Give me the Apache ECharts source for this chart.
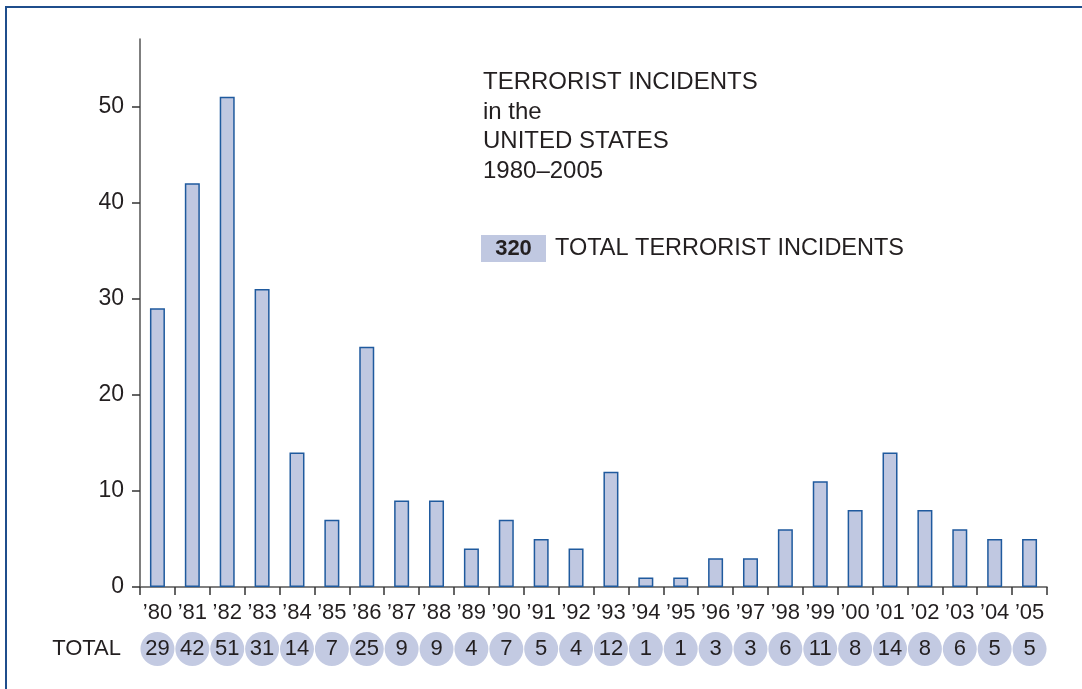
<!DOCTYPE html>
<html>
<head>
<meta charset="utf-8">
<script src="https://cdn.jsdelivr.net/npm/echarts@6/dist/echarts.min.js"></script>
<style>
  html, body { margin: 0; padding: 0; background: #fff; }
  #main { width: 1082px; height: 689px; }
</style>
</head>
<body>
<div id="main"></div>
<script>
// year labels along the bottom
const years = ['’80','’81','’82','’83','’84','’85','’86','’87','’88','’89','’90','’91','’92',
               '’93','’94','’95','’96','’97','’98','’99','’00','’01','’02','’03','’04','’05']
// incidents per year
const incidents = [29, 42, 51, 31, 14, 7, 25, 9, 9, 4, 7, 5, 4, 12, 1, 1, 3, 3, 6, 11, 8, 14, 8, 6, 5, 5]
const yTicks = [0, 10, 20, 30, 40, 50]
const grandTotal = 320

const fill = '#c0c8e1'
const edge = '#1f5a9e'
const ink = '#231f20'
const font = 'Liberation Sans, Arial, Helvetica, sans-serif'

let chart = echarts.init(document.getElementById('main'))
chart.setOption({
  animation: false,
  textStyle: { fontFamily: font, color: ink },
  grid: [
    { left: 140, right: 35, top: 39, bottom: 102 },
    { left: 140, right: 35, top: 632, height: 34 }
  ],
  xAxis: [{
    type: 'category',
    data: years,
    boundaryGap: true,
    axisLine: { lineStyle: { color: '#555', width: 1.5 } },
    axisTick: { show: true, length: 8, lineStyle: { color: '#333', width: 1.5 } },
    axisLabel: { fontSize: 22, color: ink, margin: 15, interval: 0 }
  }, {
    type: 'category',
    gridIndex: 1,
    data: years,
    show: false
  }],
  yAxis: [{
    type: 'value',
    min: 0,
    max: 57,
    interval: 10,
    splitLine: { show: false },
    axisLine: { show: true, lineStyle: { color: '#555', width: 1.5 } },
    axisTick: { show: true, length: 8, customValues: yTicks, lineStyle: { color: '#333', width: 1.5 } },
    axisLabel: { fontSize: 23, color: ink, margin: 16, customValues: yTicks }
  }, {
    type: 'category',
    gridIndex: 1,
    data: ['TOTAL'],
    axisLine: { show: false },
    axisTick: { show: false },
    axisLabel: { fontSize: 22, color: ink, margin: 19 }
  }],
  series: [{
    type: 'bar',
    data: incidents,
    barWidth: 15,
    itemStyle: { color: fill, borderColor: edge, borderWidth: 1.5 }
  }, {
    type: 'scatter',
    xAxisIndex: 1,
    yAxisIndex: 1,
    data: incidents.map((v, i) => [years[i], 'TOTAL', v]),
    symbolSize: 34,
    itemStyle: { color: '#c3cae2', opacity: 1 },
    label: {
      show: true,
      position: 'inside',
      fontSize: 22,
      color: ink,
      formatter: p => p.value[2]
    }
  }],
  graphic: [{
    type: 'rect',
    shape: { x: 6, y: 7, width: 1200, height: 800 },
    style: { fill: 'none', stroke: '#1f4e8c', lineWidth: 2 },
    silent: true
  }, {
    type: 'text',
    x: 483, y: 68,
    style: {
      text: 'TERRORIST INCIDENTS\nin the\nUNITED STATES\n1980–2005',
      font: '24px ' + font,
      lineHeight: 29.5,
      fill: ink,
      verticalAlign: 'top'
    }
  }, {
    type: 'rect',
    shape: { x: 481, y: 235, width: 65, height: 27 },
    style: { fill: fill }
  }, {
    type: 'text',
    x: 513.5, y: 249,
    style: {
      text: String(grandTotal),
      font: 'bold 22px ' + font,
      fill: ink,
      align: 'center',
      verticalAlign: 'middle'
    }
  }, {
    type: 'text',
    x: 555, y: 249,
    style: {
      text: 'TOTAL TERRORIST INCIDENTS',
      font: '23.5px ' + font,
      fill: ink,
      verticalAlign: 'middle'
    }
  }]
})
</script>
</body>
</html>
